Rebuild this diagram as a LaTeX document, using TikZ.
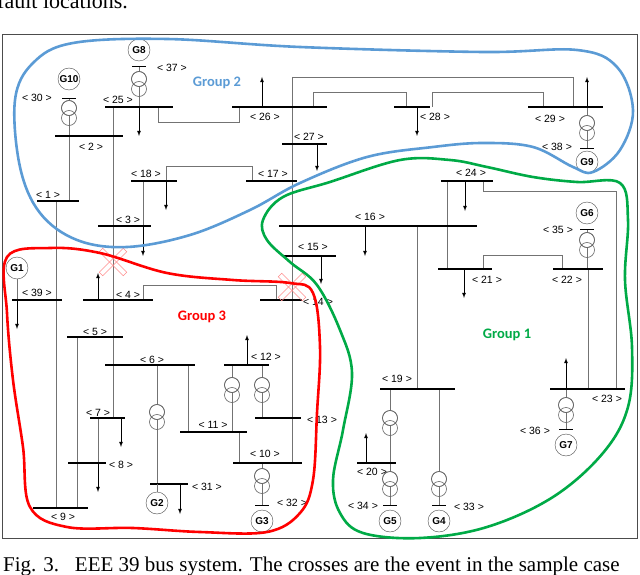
\documentclass[tikz,border=0pt]{standalone}
\usepackage{fontspec}
\setmainfont{Liberation Serif}
\newfontfamily\arialfnt{Liberation Sans}
\newfontfamily\grpfnt{Carlito}
\begin{document}
\begin{tikzpicture}[x=1pt,y=-1pt,
 bus/.style={line width=1.8pt},
 wire/.style={black!55,line width=0.6pt},
 load/.style={line width=0.8pt,-{latex}},
 lab/.style={font=\arialfnt\fontsize{10.5}{12}\selectfont,inner sep=0pt},
 gen/.style={circle,draw=black!70,fill=white,minimum size=22pt,inner sep=0pt,font=\arialfnt\bfseries\fontsize{10}{10}\selectfont},
 trc/.style={draw=black!60,fill=white,line width=0.6pt},
 grp/.style={font=\grpfnt\bfseries\fontsize{14.5}{15}\selectfont},
 cross/.style={draw=red!45,line width=0.5pt}]
\useasboundingbox (0,0) rectangle (640,575);
\node[anchor=base west,inner sep=0pt,font=\fontsize{22}{24}\selectfont] (top) at (-3,9) {fault locations.};
\node[anchor=base west,inner sep=0pt,font=\fontsize{21}{24}\selectfont] (cap) at (3,571) {Fig. 3.\ \ \ EEE 39 bus system. The crosses are the event in the sample case};
\draw[black!70,line width=0.6pt] (2,34) rectangle (637,538);
\newcommand{\trf}[2]{\draw[trc] (#1,#2) circle (7.5); \draw[trc,fill=none] (#1,#2+10) circle (7.5);\draw[black!60,line width=0.6pt] (#1,#2) circle (7.5);}
\newcommand{\gbar}[2]{\draw[line width=0.9pt] (#1-7,#2) -- (#1+7,#2);}
% ---------- wires ----------
\draw[wire] (113,107) -- (113,418);
\draw[wire] (69,136) -- (69,201);
\draw[wire] (56,201) -- (56,508);
\draw[wire] (158,107) -- (158,122) -- (239,122) -- (239,107);
\draw[wire] (292,77) -- (292,463);
\draw[wire] (292,77) -- (573,77) -- (573,107);
\draw[wire] (313,107) -- (313,92) -- (406,92) -- (406,107);
\draw[wire] (432,107) -- (432,92) -- (543,92) -- (543,107);
\draw[wire] (166,181) -- (166,166) -- (252,166) -- (252,181);
\draw[wire] (143,181) -- (143,226);
\draw[wire] (483,181) -- (483,191) -- (616,191) -- (616,389);
\draw[wire] (447,181) -- (447,269);
\draw[wire] (417,226) -- (417,389);
\draw[wire] (483,269) -- (483,255) -- (562,255) -- (562,269);
\draw[wire] (588,269) -- (588,389);
\draw[wire] (587,229) -- (587,269);
\draw[wire] (587,107) -- (587,148);
\draw[wire] (566,389) -- (566,429);
\draw[wire] (390,389) -- (390,505);
\draw[wire] (439,389) -- (439,505);
\draw[wire] (69,98) -- (69,136);
\draw[wire] (139,66) -- (139,107);
\draw[wire] (143,300) -- (143,285) -- (276,285) -- (276,300);
\draw[wire] (77,337) -- (77,508);
\draw[wire] (157,365) -- (157,484);
\draw[wire] (188,365) -- (188,432);
\draw[wire] (232,365) -- (232,432);
\draw[wire] (262,365) -- (262,418);
\draw[wire] (239,432) -- (239,463);
\draw[wire] (262,463) -- (262,505);
\draw[wire] (17,279) -- (17,300);
\draw[wire] (98,418) -- (98,463);
% ---------- transformers ----------
\trf{69}{108}\trf{139}{79}\trf{587}{123}\trf{587}{240}\trf{566}{405}
\trf{390}{418}\trf{390}{479}\trf{439}{479}\trf{157}{412}\trf{232}{385}\trf{262}{385}\trf{262}{476}
% ---------- generator bars ----------
\gbar{69}{98}\gbar{139}{66}\gbar{587}{148}\gbar{587}{229}\gbar{566}{429}\gbar{390}{505}\gbar{439}{505}\gbar{262}{505}
% ---------- buses ----------
\draw[bus] (105,107) -- (173,107); \node[lab] (b25) at (118,100) {< 25 >};
\draw[bus] (55,136) -- (123,136); \node[lab] (b2) at (91,147) {< 2 >};
\draw[bus] (232,107) -- (327,107); \node[lab] (b26) at (265,117) {< 26 >};
\draw[bus] (282,144) -- (327,144); \node[lab] (b27) at (309,137) {< 27 >};
\draw[bus] (131,181) -- (177,181); \node[lab] (b18) at (146,174) {< 18 >};
\draw[bus] (246,181) -- (297,181); \node[lab] (b17) at (273,174) {< 17 >};
\draw[bus] (37,201) -- (79,201); \node[lab] (b1) at (48,195) {< 1 >};
\draw[bus] (98,226) -- (151,226); \node[lab] (b3) at (128,220) {< 3 >};
\draw[bus] (279,226) -- (477,226); \node[lab] (b16) at (370,217) {< 16 >};
\draw[bus] (283,256) -- (336,256); \node[lab] (b15) at (313,247) {< 15 >};
\draw[bus] (394,107) -- (430,107); \node[lab] (b28) at (435,117) {< 28 >};
\draw[bus] (528,107) -- (603,107); \node[lab] (b29) at (550,119) {< 29 >};
\draw[bus] (441,181) -- (493,181); \node[lab] (b24) at (471,173) {< 24 >};
\draw[bus] (438,269) -- (492,269); \node[lab] (b21) at (487,280) {< 21 >};
\draw[bus] (553,269) -- (603,269); \node[lab] (b22) at (567,280) {< 22 >};
\draw[bus] (550,389) -- (625,389); \node[lab] (b23) at (607,399) {< 23 >};
\draw[bus] (380,389) -- (455,389); \node[lab] (b19) at (397,379) {< 19 >};
\draw[bus] (357,463) -- (396,463); \node[lab] (b20) at (372,472) {< 20 >};
\draw[bus] (12,300) -- (62,300); \node[lab] (b39) at (37,293) {< 39 >};
\draw[bus] (83,300) -- (153,300); \node[lab] (b4) at (128,295) {< 4 >};
\draw[bus] (260,300) -- (302,300); \node[lab] (b14) at (318,302) {< 14 >};
\draw[bus] (67,337) -- (123,337); \node[lab] (b5) at (95,332) {< 5 >};
\draw[bus] (105,365) -- (195,365); \node[lab] (b6) at (152,360) {< 6 >};
\draw[bus] (224,365) -- (269,365); \node[lab] (b12) at (266,357) {< 12 >};
\draw[bus] (90,418) -- (125,418); \node[lab] (b7) at (98,413) {< 7 >};
\draw[bus] (255,418) -- (301,418); \node[lab] (b13) at (322,420) {< 13 >};
\draw[bus] (180,432) -- (247,432); \node[lab] (b11) at (213,425) {< 11 >};
\draw[bus] (68,463) -- (106,463); \node[lab] (b8) at (121,465) {< 8 >};
\draw[bus] (233,463) -- (302,463); \node[lab] (b10) at (265,454) {< 10 >};
\draw[bus] (150,484) -- (188,484); \node[lab] (b31) at (207,487) {< 31 >};
\draw[bus] (33,508) -- (88,508); \node[lab] (b9) at (63,517) {< 9 >};
% gen labels
\node[lab] (l30) at (37,98) {< 30 >};
\node[lab] (l37) at (172,68) {< 37 >};
\node[lab] (l38) at (557,147) {< 38 >};
\node[lab] (l35) at (558,230) {< 35 >};
\node[lab] (l36) at (535,431) {< 36 >};
\node[lab] (l34) at (363,506) {< 34 >};
\node[lab] (l33) at (469,507) {< 33 >};
\node[lab] (l32) at (292,503) {< 32 >};
% ---------- generators ----------
\node[gen] (G10) at (69,79) {G10};
\node[gen] (G8) at (139,50) {G8};
\node[gen] (G9) at (587,162) {G9};
\node[gen] (G6) at (587,213) {G6};
\node[gen] (G7) at (566,445) {G7};
\node[gen] (G5) at (390,521) {G5};
\node[gen] (G4) at (439,521) {G4};
\node[gen] (G3) at (262,521) {G3};
\node[gen] (G2) at (157,503) {G2};
\node[gen] (G1) at (17,268) {G1};
\draw[wire] (G2) -- (157,484);
% ---------- loads ----------
\draw[load] (139,107) -- (139,136);
\draw[load] (262,107) -- (262,77);
\draw[load] (317,144) -- (317,171);
\draw[load] (417,107) -- (417,136);
\draw[load] (587,107) -- (587,77);
\draw[load] (166,181) -- (166,210);
\draw[load] (143,226) -- (143,256);
\draw[load] (465,181) -- (465,211);
\draw[load] (365,226) -- (365,256);
\draw[load] (321,256) -- (321,284);
\draw[load] (464,269) -- (464,298);
\draw[load] (566,389) -- (566,358);
\draw[load] (366,463) -- (366,433);
\draw[load] (17,300) -- (17,329);
\draw[load] (98,300) -- (98,273);
\draw[load] (247,365) -- (247,335);
\draw[load] (121,418) -- (121,447);
\draw[load] (98,463) -- (98,492);
\draw[load] (180,484) -- (180,514);
% ---------- crosses ----------
\foreach \cx/\cy in {113/262,292/287}{
 \draw[cross,rotate around={45:(\cx,\cy)}] (\cx-17,\cy-2.5) rectangle (\cx+17,\cy+2.5);
 \draw[cross,rotate around={-45:(\cx,\cy)}] (\cx-17,\cy-2.5) rectangle (\cx+17,\cy+2.5);}
% ---------- groups ----------
\draw[line width=2.6pt,color={rgb,255:red,91;green,155;blue,213}] plot[smooth cycle,tension=0.6] coordinates{
 (73,43) (167,39) (300,47) (483,52) (577,50) (617,67) (633,110) (620,150) (593,172) (573,167) (533,147) (483,143) (433,147) (367,157) (300,183) (250,210) (190,235) (127,247) (77,240) (40,213) (20,167) (15,100) (33,63)};
\draw[line width=2.6pt,color={rgb,255:red,0;green,170;blue,70}] plot[smooth cycle,tension=0.6] coordinates{
 (330,182) (400,160) (450,160) (487,167) (533,177) (577,182) (620,183) (628,220) (625,280) (632,347) (628,407) (603,453) (553,497) (487,527) (420,538) (363,533) (340,513) (333,480) (343,430) (352,373) (340,330) (317,285) (290,262) (267,240) (263,220) (283,197)};
\draw[line width=2.6pt,color=red] plot[smooth cycle,tension=0.6] coordinates{
 (7,257) (50,248) (100,253) (167,273) (233,280) (290,283) (313,293) (320,347) (317,413) (313,480) (300,513) (267,532) (200,532) (133,528) (67,527) (30,507) (23,447) (13,380) (7,313)};
\node[grp,text={rgb,255:red,91;green,155;blue,213}] (g2) at (217,83) {Group 2};
\node[grp,text={rgb,255:red,0;green,170;blue,70}] (g1) at (507,335) {Group 1};
\node[grp,text=red] (g3) at (202,317) {Group 3};
\end{tikzpicture}
\end{document}
